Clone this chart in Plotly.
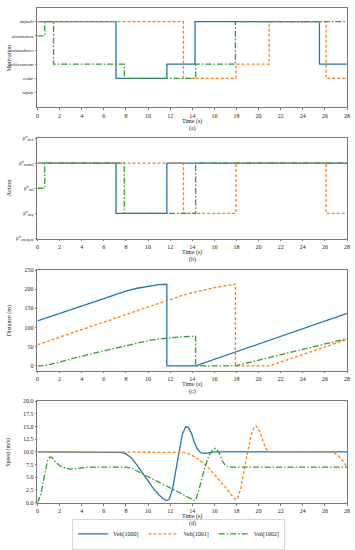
import plotly.graph_objects as go

# ---------------- data ----------------
names = ["Veh[1000]", "Veh[1001]", "Veh[1002]"]
colors = ["#1f77b4", "#ff7f0e", "#2ca02c"]
dashes = ["solid", "3px,2px", "6px,2px,1.5px,2px"]

motivation_labels = ["safety", "order", "achievement", "relatedness", "dominance", "default"]
action_labels = ["emergent", "stop", "fast", "normal", "alert"]
time_ticks = list(range(0, 29, 2))

# (a) motivation step series: switch times and level index (into motivation_labels)
mot_t = [
    [0, 7.1, 11.7, 14.25, 25.5, 28],
    [0, 13.2, 17.95, 20.95, 26.1, 28],
    [0, 0.65, 1.45, 7.85, 14.3, 17.9, 28],
]
mot_v = [
    [5, 1, 2, 5, 2, 2],
    [5, 1, 2, 5, 1, 1],
    [4, 5, 2, 1, 2, 5, 5],
]

# (b) action step series (into action_labels)
act_t = [
    [0, 7.1, 11.7, 28],
    [0, 13.2, 17.95, 26.1, 28],
    [0, 0.65, 7.85, 14.3, 28],
]
act_v = [
    [3, 1, 3, 3],
    [3, 1, 3, 1, 1],
    [2, 3, 1, 3, 3],
]

# (c) distance (m)
dist_t = [
    [0, 2, 4, 6, 7.3, 8, 9, 10, 10.5, 11, 11.7, 11.7, 14.3, 28],
    [0, 4, 8, 13, 14, 15, 16, 17, 17.9, 17.9, 21, 28],
    [0, 0.6, 1.5, 2, 4, 6, 8, 9, 10, 11, 12, 13, 14.3, 14.3, 17.9, 28],
]
dist_v = [
    [117, 137, 157, 176, 189, 195, 202.5, 208, 210.5, 212, 213, 0, 0, 137],
    [55, 95, 134, 183, 191, 198, 204, 209, 213, 0, 0, 69],
    [0, 0.5, 6, 10, 25, 39, 53, 59.5, 65.5, 70, 73, 75.5, 77.5, 0, 0, 71],
]

# (d) speed (m/s)
spd_t = [
    [0, 7.2, 7.6, 8, 8.5, 9, 9.5, 10, 10.5, 11, 11.4, 11.7, 11.9, 12.2, 12.5, 12.8,
     13.1, 13.4, 13.6, 13.9, 14.2, 14.5, 14.8, 15.2, 15.6, 16, 28],
    [0, 12.8, 13.2, 13.6, 14, 14.5, 15, 15.5, 16, 16.5, 17, 17.5, 17.9, 18.1, 18.4,
     18.7, 19, 19.3, 19.6, 19.8, 20.1, 20.4, 20.7, 21, 26.3, 26.8, 27.2, 27.6, 28],
    [0, 0.3, 0.6, 0.9, 1.1, 1.3, 1.6, 2, 2.5, 3, 3.5, 4, 4.5, 6, 8, 8.5, 9.1, 10,
     11, 12, 13, 14.2, 14.3, 14.6, 14.9, 15.2, 15.5, 15.8, 16.1, 16.4, 16.7, 17,
     17.4, 28],
]
spd_v = [
    [10, 10, 9.9, 9.6, 8.8, 7.4, 5.8, 4.1, 2.7, 1.5, 0.7, 0.4, 0.6, 2.5, 6.2, 10.5,
     13.5, 14.9, 14.9, 13.8, 11.8, 10.4, 9.8, 9.7, 9.9, 10, 10],
    [10, 10, 9.9, 9.7, 9.3, 8.6, 7.8, 6.8, 5.6, 4.3, 3.0, 1.6, 0.6, 0.8, 3, 6.5,
     10, 13.2, 14.9, 15.1, 14, 12, 10.5, 10, 10, 9.8, 9.3, 8.3, 7.0],
    [0, 1.5, 5, 8.2, 9.0, 8.9, 8.1, 7.3, 6.8, 6.6, 6.7, 6.9, 7.0, 7.0, 7.0, 6.8,
     6.1, 5.1, 4.0, 2.9, 1.8, 0.4, 0.5, 2.5, 5.0, 7.4, 9.2, 10.3, 10.7, 10.0, 8.3,
     7.3, 7.0, 7.0],
]

# ---------------- figure ----------------
FONT = "Liberation Serif"
H = 550.0
W = 355.0
def py(p):
    return 1 - p / H

panels = [
    # (top px, bottom px, y title, letter)
    (5, 106, "Motivation", "(a)"),
    (137, 239, "Action", "(b)"),
    (271, 373, "Distance (m)", "(c)"),
    (404, 507, "Speed (m/s)", "(d)"),
]
xdom = [36 / W, 350 / W]

fig = go.Figure()

series = [(mot_t, mot_v, "hv"), (act_t, act_v, "hv"), (dist_t, dist_v, "linear"), (spd_t, spd_v, "linear")]
for pi, (ts, vs, shape) in enumerate(series):
    for i in range(3):
        fig.add_trace(go.Scatter(
            x=ts[i], y=vs[i], mode="lines", name=names[i],
            line=dict(color=colors[i], dash=dashes[i], width=1.3, shape=shape),
            xaxis="x" if pi == 0 else f"x{pi+1}",
            yaxis="y" if pi == 0 else f"y{pi+1}",
            showlegend=(pi == 3),
        ))

axis_common = dict(
    showline=True, mirror=True, linecolor="#777", linewidth=0.8,
    ticks="outside", ticklen=2, tickwidth=0.8, tickcolor="#777",
    showgrid=False, zeroline=False,
    tickfont=dict(family=FONT, size=6, color="#222"),
)

layout = dict(
    width=355, height=550, margin=dict(l=0, r=0, t=0, b=0),
    paper_bgcolor="white", plot_bgcolor="white",
    font=dict(family=FONT, size=6, color="#222"),
    legend=dict(orientation="h", x=0.505, y=py(539), xanchor="center", yanchor="middle",
                bordercolor="#ccc", borderwidth=0.8, font=dict(family=FONT, size=6),
                itemwidth=30, tracegroupgap=0),
)

small = dict(family=FONT, size=5, color="#222")
yaxes = [
    dict(range=[-1.05, 5.97], tickvals=list(range(6)), tickfont=small,
         ticktext=[f"<i>{s}</i>" for s in motivation_labels]),
    dict(range=[0, 4], tickvals=list(range(5)), tickfont=small,
         ticktext=[f"β<sup>tt</sup><sub>{s}</sub>" for s in action_labels]),
    dict(range=[-12.5, 250], tickvals=[0, 50, 100, 150, 200, 250]),
    dict(range=[0, 20], tickvals=[0, 2.5, 5, 7.5, 10, 12.5, 15, 17.5, 20],
         tickformat=".1f"),
]

annotations = []
for pi, (top, bot, ytitle, letter) in enumerate(panels):
    xk = "xaxis" if pi == 0 else f"xaxis{pi+1}"
    yk = "yaxis" if pi == 0 else f"yaxis{pi+1}"
    layout[xk] = dict(axis_common, domain=xdom, range=[0, 28], tickvals=time_ticks,
                      anchor="y" if pi == 0 else f"y{pi+1}")
    yax = dict(axis_common, domain=[py(bot), py(top)],
               anchor="x" if pi == 0 else f"x{pi+1}")
    yax.update(yaxes[pi])
    layout[yk] = yax
    annotations.append(dict(text="Time (s)", x=(xdom[0] + xdom[1]) / 2, y=py(bot + 14.5),
                            xref="paper", yref="paper", showarrow=False,
                            font=dict(family=FONT, size=6), xanchor="center", yanchor="middle"))
    annotations.append(dict(text=letter, x=(xdom[0] + xdom[1]) / 2, y=py(bot + 21.5),
                            xref="paper", yref="paper", showarrow=False,
                            font=dict(family=FONT, size=6), xanchor="center", yanchor="middle"))
    annotations.append(dict(text=ytitle, x=7 / W, y=py((top + bot) / 2),
                            xref="paper", yref="paper", showarrow=False, textangle=-90,
                            font=dict(family=FONT, size=6), xanchor="center", yanchor="middle"))
layout["annotations"] = annotations
fig.update_layout(**layout)

fig.write_html("out.html", config={"displayModeBar": False},
               post_script="document.body.style.margin='0';")
